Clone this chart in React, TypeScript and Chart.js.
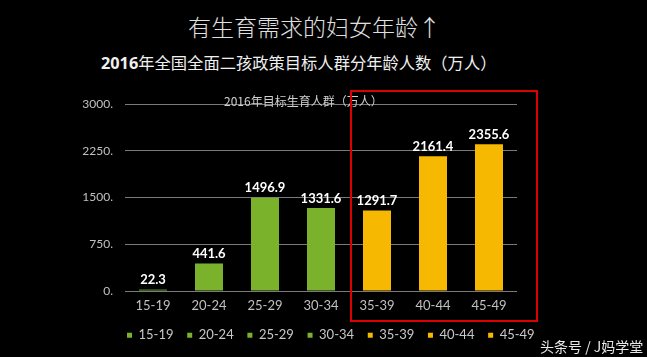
import React, { useEffect, useRef } from "react";
import { Chart, registerables } from "chart.js";

Chart.register(...registerables);

const categories = ["15-19", "20-24", "25-29", "30-34", "35-39", "40-44", "45-49"];
const values = [22.3, 441.6, 1496.9, 1331.6, 1291.7, 2161.4, 2355.6];
const barColors = ["#7ab22c", "#7ab22c", "#7ab22c", "#7ab22c", "#f6b800", "#f6b800", "#f6b800"];
const yTicks = [0, 750, 1500, 2250, 3000];

const mainTitle = "有生育需求的妇女年龄↑";
const subTitleBold = "2016";
const subTitleRest = "年全国全面二孩政策目标人群分年龄人数（万人）";
const innerTitle = "2016年目标生育人群（万人）";
const watermark = "头条号 / J妈学堂";

const LATIN = "Lato, 'DejaVu Sans', sans-serif";
const CJK = "'Noto Sans CJK SC', 'Noto Sans', sans-serif";

export default function App() {
  const ref = useRef<HTMLCanvasElement | null>(null);

  useEffect(() => {
    if (!ref.current) return;
    const labelsPlugin = {
      id: "valueLabels",
      afterDatasetsDraw(chart: any) {
        const ctx = chart.ctx;
        const meta = chart.getDatasetMeta(0);
        ctx.save();
        ctx.fillStyle = "#ffffff";
        ctx.font = "bold 13px " + LATIN;
        ctx.textAlign = "center";
        ctx.textBaseline = "bottom";
        meta.data.forEach((bar: any, i: number) => {
          ctx.fillText(String(values[i].toFixed(1)), bar.x, bar.y - 3);
        });
        const ca = chart.chartArea;
        ctx.font = "12px " + CJK;
        ctx.fillStyle = "#d0d0d0";
        ctx.textBaseline = "middle";
        ctx.fillText(innerTitle, ca.left + ca.width * 0.455, ca.top - 3);
        ctx.restore();
      },
    };
    const PAD = 13.7;
    const shiftLegend = {
      id: "shiftLegend",
      afterLayout(chart: any) {
        const lg = chart.legend;
        if (lg && lg.lineWidths) {
          const start = (lg.left + PAD + lg.right - lg.lineWidths[0]) / 2;
          const dx = chart.chartArea.left + 2 - start;
          lg.left += dx;
          lg.right += dx;
          lg.top -= 4;
          lg.bottom -= 4;
        }
      },
    };
    const chart = new Chart(ref.current, {
      type: "bar",
      data: {
        labels: categories,
        datasets: [
          {
            data: values,
            backgroundColor: barColors,
            borderWidth: 0,
            barPercentage: 0.5,
            categoryPercentage: 1,
          },
        ],
      },
      options: {
        responsive: false,
        animation: false,
        layout: { padding: { left: 75, right: 130, top: 104, bottom: 5 } },
        plugins: {
          tooltip: { enabled: false },
          title: { display: false },
          legend: {
            display: true,
            position: "bottom",
            maxHeight: 33,
            labels: {
              boxWidth: 5,
              boxHeight: 5,
              padding: PAD,
              color: "#c8c8c8",
              font: { size: 13, family: LATIN },
              generateLabels: () =>
                categories.map((c, i) => ({
                  text: c,
                  fillStyle: barColors[i],
                  strokeStyle: barColors[i],
                  lineWidth: 0,
                  hidden: false,
                  index: i,
                  datasetIndex: 0,
                  fontColor: "#c8c8c8",
                })),
            },
          },
        },
        scales: {
          x: {
            grid: { display: false, drawTicks: false },
            border: { display: false },
            ticks: { color: "#c0c0c0", font: { size: 13, family: LATIN }, padding: 7 },
            afterFit(scale: any) {
              scale.height = 28;
            },
          },
          y: {
            min: 0,
            max: 3000,
            afterBuildTicks(scale: any) {
              scale.ticks = yTicks.map((v) => ({ value: v }));
            },
            grid: { color: "#7a7a7a", lineWidth: 1, drawTicks: false },
            border: { display: false },
            ticks: {
              color: "#c0c0c0",
              font: { size: 12, family: LATIN },
              padding: 12,
              callback: (v: any) => v + ".",
            },
            afterFit(scale: any) {
              scale.width = 50;
            },
          },
        },
      },
      plugins: [labelsPlugin, shiftLegend],
    } as any);
    return () => chart.destroy();
  }, []);

  return (
    <div
      style={{
        position: "fixed",
        left: 0,
        top: 0,
        width: 647,
        height: 357,
        background: "#000",
        overflow: "hidden",
      }}
    >
      <div
        style={{
          position: "absolute",
          left: 188,
          top: 10,
          color: "#e0e0e0",
          fontFamily: CJK,
          fontSize: 23,
          fontWeight: 300,
          lineHeight: "32px",
          whiteSpace: "nowrap",
        }}
      >
        {mainTitle}
      </div>
      <div
        style={
          {
            position: "absolute",
            left: 101,
            top: 50,
            color: "#f0f0f0",
            fontFamily: CJK,
            fontSize: 16.3,
            lineHeight: "24px",
            whiteSpace: "nowrap",
          } as any
        }
      >
        <span style={{ fontWeight: 700, fontFamily: "'Open Sans', " + CJK }}>{subTitleBold}</span>
        {subTitleRest}
      </div>
      <canvas
        ref={ref}
        width={647}
        height={357}
        style={{ position: "absolute", left: 0, top: 0, width: 647, height: 357 }}
      />
      <div
        style={{
          position: "absolute",
          left: 350,
          top: 90,
          width: 188,
          height: 232,
          border: "2px solid #dd0000",
          boxSizing: "border-box",
        }}
      />
      <div
        style={{
          position: "absolute",
          left: 540,
          top: 336,
          color: "#e8e8e8",
          fontFamily: CJK,
          fontSize: 14,
          lineHeight: "20px",
          whiteSpace: "nowrap",
        }}
      >
        {watermark}
      </div>
    </div>
  );
}
